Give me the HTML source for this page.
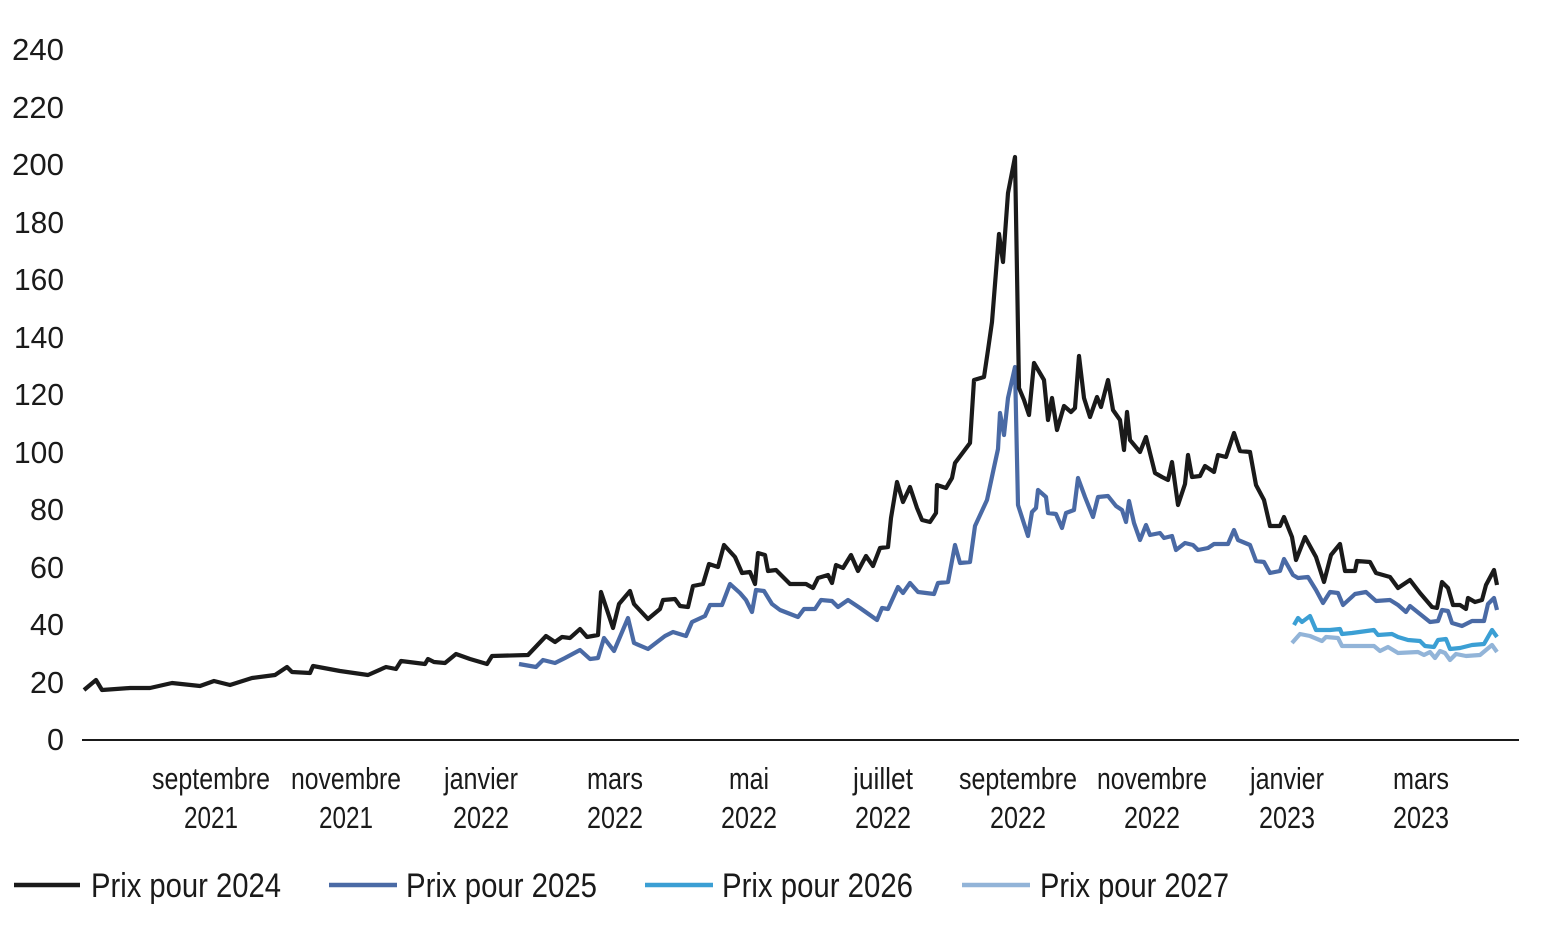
<!DOCTYPE html>
<html><head><meta charset="utf-8"><style>html,body{margin:0;padding:0;background:#fff}svg{display:block}text{font-family:"Liberation Sans Narrow","Liberation Sans",sans-serif;fill:#1a1a1a}</style></head><body>
<svg width="1542" height="926" viewBox="0 0 1542 926" xmlns="http://www.w3.org/2000/svg">
<g font-size="31" text-anchor="end">
<text x="64" y="60" textLength="52" lengthAdjust="spacingAndGlyphs">240</text>
<text x="64" y="118" textLength="52" lengthAdjust="spacingAndGlyphs">220</text>
<text x="64" y="175" textLength="52" lengthAdjust="spacingAndGlyphs">200</text>
<text x="64" y="233" textLength="50" lengthAdjust="spacingAndGlyphs">180</text>
<text x="64" y="290" textLength="50" lengthAdjust="spacingAndGlyphs">160</text>
<text x="64" y="348" textLength="50" lengthAdjust="spacingAndGlyphs">140</text>
<text x="64" y="405" textLength="50" lengthAdjust="spacingAndGlyphs">120</text>
<text x="64" y="463" textLength="50" lengthAdjust="spacingAndGlyphs">100</text>
<text x="64" y="520" textLength="34" lengthAdjust="spacingAndGlyphs">80</text>
<text x="64" y="578" textLength="34" lengthAdjust="spacingAndGlyphs">60</text>
<text x="64" y="635" textLength="34" lengthAdjust="spacingAndGlyphs">40</text>
<text x="64" y="693" textLength="34" lengthAdjust="spacingAndGlyphs">20</text>
<text x="64" y="750" textLength="17" lengthAdjust="spacingAndGlyphs">0</text>
</g>
<line x1="82" y1="740" x2="1519" y2="740" stroke="#1a1a1a" stroke-width="2"/>
<g font-size="31" text-anchor="middle">
<text x="211" y="789" textLength="118" lengthAdjust="spacingAndGlyphs">septembre</text><text x="211" y="828" textLength="54" lengthAdjust="spacingAndGlyphs">2021</text>
<text x="346" y="789" textLength="110" lengthAdjust="spacingAndGlyphs">novembre</text><text x="346" y="828" textLength="54" lengthAdjust="spacingAndGlyphs">2021</text>
<text x="481" y="789" textLength="74" lengthAdjust="spacingAndGlyphs">janvier</text><text x="481" y="828" textLength="56" lengthAdjust="spacingAndGlyphs">2022</text>
<text x="615" y="789" textLength="56" lengthAdjust="spacingAndGlyphs">mars</text><text x="615" y="828" textLength="56" lengthAdjust="spacingAndGlyphs">2022</text>
<text x="749" y="789" textLength="40" lengthAdjust="spacingAndGlyphs">mai</text><text x="749" y="828" textLength="56" lengthAdjust="spacingAndGlyphs">2022</text>
<text x="883" y="789" textLength="60" lengthAdjust="spacingAndGlyphs">juillet</text><text x="883" y="828" textLength="56" lengthAdjust="spacingAndGlyphs">2022</text>
<text x="1018" y="789" textLength="118" lengthAdjust="spacingAndGlyphs">septembre</text><text x="1018" y="828" textLength="56" lengthAdjust="spacingAndGlyphs">2022</text>
<text x="1152" y="789" textLength="110" lengthAdjust="spacingAndGlyphs">novembre</text><text x="1152" y="828" textLength="56" lengthAdjust="spacingAndGlyphs">2022</text>
<text x="1287" y="789" textLength="74" lengthAdjust="spacingAndGlyphs">janvier</text><text x="1287" y="828" textLength="56" lengthAdjust="spacingAndGlyphs">2023</text>
<text x="1421" y="789" textLength="56" lengthAdjust="spacingAndGlyphs">mars</text><text x="1421" y="828" textLength="56" lengthAdjust="spacingAndGlyphs">2023</text>
</g>
<g fill="none" stroke-width="4.2" stroke-linejoin="round">
<polyline stroke="#92b4d8" points="1292,643 1300,634 1310,636 1322,641 1326,637 1338,638 1342,646 1374,646 1380,651 1388,647 1398,653 1418,652 1424,655 1430,652 1435,658 1440,651 1445,653 1450,660 1456,654 1466,656 1480,655 1486,650 1492,645 1497,652"/>
<polyline stroke="#3b9fd4" points="1294,625 1298,618 1302,622 1310,616 1316,630 1330,630 1340,629 1342,634 1352,633 1374,630 1378,635 1392,634 1398,637 1408,640 1420,641 1425,646 1434,647 1438,640 1446,639 1450,649 1460,648 1472,645 1484,644 1492,630 1497,637"/>
<polyline stroke="#4a6aa5" points="519,664 536,667 543,660 555,663 565,658 580,650 590,659 598,658 604,638 614,651 628,618 634,643 648,649 665,636 673,632 686,636 692,622 705,616 710,605 722,605 730,584 740,593 746,600 752,612 756,590 764,591 772,604 780,610 798,617 804,609 815,609 821,600 832,601 838,607 848,600 860,608 877,620 882,608 888,609 898,587 903,593 910,583 918,592 934,594 938,583 948,582 955,545 960,563 970,562 975,526 987,500 993,472 998,449 1000,413 1004,435 1008,398 1015,367 1018,505 1028,536 1032,512 1036,508 1038,490 1046,497 1048,513 1056,514 1062,528 1066,513 1074,510 1078,478 1085,497 1093,517 1098,497 1108,496 1116,506 1122,510 1126,522 1129,501 1134,523 1140,540 1146,525 1150,535 1160,533 1164,538 1172,536 1176,550 1185,543 1193,545 1198,550 1208,548 1214,544 1228,544 1234,530 1238,540 1250,545 1256,561 1264,562 1270,573 1280,571 1284,559 1293,575 1298,578 1308,577 1316,590 1323,603 1330,592 1338,593 1343,605 1355,594 1366,592 1376,601 1390,600 1398,605 1406,612 1410,606 1420,614 1430,622 1438,621 1442,610 1448,611 1452,623 1462,626 1472,621 1484,621 1488,604 1494,598 1497,610"/>
<polyline stroke="#1a1a1a" points="84,690 96,680 102,690 130,688 150,688 172,683 200,686 214,681 230,685 252,678 275,675 287,667 292,672 310,673 313,666 340,671 368,675 386,667 396,669 401,661 425,664 428,659 434,662 445,663 456,654 470,659 487,664 492,656 528,655 546,636 555,642 562,637 570,638 580,629 587,637 598,635 601,592 613,628 619,604 630,591 634,604 648,619 660,609 663,600 675,599 680,606 688,607 693,586 703,584 709,564 718,567 724,545 735,557 742,573 750,572 755,584 758,553 765,555 768,571 776,570 790,584 806,584 813,588 818,578 828,575 832,583 836,565 843,568 851,555 858,571 866,556 873,566 880,548 888,547 891,518 897,482 903,502 910,487 917,508 922,520 930,522 936,513 937,485 946,488 952,478 955,463 970,443 974,380 984,377 988,350 992,322 999,234 1003,262 1008,193 1015,157 1019,388 1024,400 1029,415 1034,363 1044,380 1048,420 1052,398 1057,430 1064,406 1071,412 1075,408 1079,356 1084,398 1090,417 1097,397 1101,407 1108,380 1113,410 1120,420 1124,450 1127,412 1130,440 1140,452 1146,437 1155,473 1162,477 1168,480 1172,462 1178,505 1185,484 1188,455 1192,477 1200,476 1205,466 1214,472 1218,455 1226,457 1234,433 1240,451 1250,452 1256,485 1264,500 1270,526 1280,526 1284,517 1292,537 1296,560 1305,537 1316,557 1324,582 1331,555 1340,544 1345,571 1355,571 1357,561 1370,562 1376,573 1390,577 1398,588 1410,580 1420,593 1432,607 1437,608 1442,582 1448,588 1453,605 1460,605 1466,609 1468,598 1475,602 1482,600 1486,585 1494,570 1497,585"/>
</g>
<g stroke-width="4.5">
<line x1="14" y1="885" x2="80" y2="885" stroke="#1a1a1a"/>
<line x1="329" y1="885" x2="397" y2="885" stroke="#4a6aa5"/>
<line x1="645" y1="885" x2="713" y2="885" stroke="#3b9fd4"/>
<line x1="962" y1="885" x2="1030" y2="885" stroke="#92b4d8"/>
</g>
<g font-size="34">
<text x="91" y="897" textLength="190" lengthAdjust="spacingAndGlyphs">Prix pour 2024</text>
<text x="406" y="897" textLength="191" lengthAdjust="spacingAndGlyphs">Prix pour 2025</text>
<text x="722" y="897" textLength="191" lengthAdjust="spacingAndGlyphs">Prix pour 2026</text>
<text x="1040" y="897" textLength="189" lengthAdjust="spacingAndGlyphs">Prix pour 2027</text>
</g>
</svg>
</body></html>
